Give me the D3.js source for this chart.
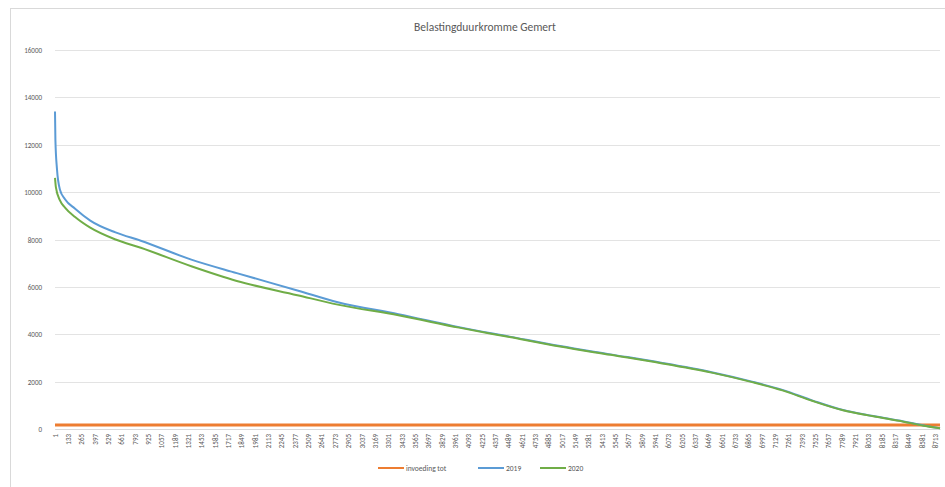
<!DOCTYPE html>
<html>
<head>
<meta charset="utf-8">
<script src="https://cdn.jsdelivr.net/npm/d3@7"></script>
<style>
  body { margin: 0; background: #fff; }
  text { font-family: Calibri, Carlito, "Liberation Sans", sans-serif; fill: #595959; }
</style>
</head>
<body>
<div id="chart"></div>
<script>
// uren (gesorteerd) en belasting in kW
const hours2019 = [1, 5, 20, 50, 100, 200, 350, 600, 850, 1350, 1800, 2400, 2800, 3400, 4000, 4500, 5000, 5500, 6000, 6500, 6900, 7200, 7500, 7800, 8100, 8400, 8600, 8760];
const values2019 = [13400, 12200, 11000, 10100, 9700, 9300, 8800, 8300, 7950, 7150, 6580, 5850, 5350, 4850, 4300, 3900, 3500, 3150, 2800, 2400, 2000, 1650, 1200, 800, 550, 320, 150, 30];

const hours2020 = [1, 10, 50, 100, 200, 350, 600, 850, 1350, 1800, 2400, 2800, 3400, 4000, 4500, 5000, 5500, 6000, 6500, 6900, 7200, 7500, 7800, 8100, 8400, 8600, 8760];
const values2020 = [10600, 10200, 9650, 9350, 8950, 8500, 8000, 7650, 6870, 6250, 5650, 5250, 4800, 4280, 3880, 3480, 3130, 2780, 2380, 1980, 1630, 1180, 790, 540, 310, 140, 30];

const hoursInvoeding = [1, 8760];
const valuesInvoeding = [170, 170];

const yTicks = [0, 2000, 4000, 6000, 8000, 10000, 12000, 14000, 16000];
const xTickLabels = [1,133,265,397,529,661,793,925,1057,1189,1321,1453,1585,1717,1849,1981,2113,2245,2377,2509,2641,2773,2905,3037,3169,3301,3433,3565,3697,3829,3961,4093,4225,4357,4489,4621,4753,4885,5017,5149,5281,5413,5545,5677,5809,5941,6073,6205,6337,6469,6601,6733,6865,6997,7129,7261,7393,7525,7657,7789,7921,8053,8185,8317,8449,8581,8713];

const seriesNames = ['invoeding tot', '2019', '2020'];
const colors = ['#ED7D31', '#5B9BD5', '#70AD47'];

const W = 945, H = 487;
const plotLeft = 55, plotRight = 940, plotTop = 50, plotBottom = 429;

const svg = d3.select('#chart').append('svg')
  .attr('width', W)
  .attr('height', H);

// rand van de grafiek
svg.append('rect')
  .attr('x', 10.5).attr('y', 8.5)
  .attr('width', 940).attr('height', 490)
  .attr('fill', 'none')
  .attr('stroke', '#d9d9d9');

const x = d3.scaleLinear().domain([1, 8760]).range([plotLeft, plotRight]);
const y = d3.scaleLinear().domain([0, 16000]).range([plotBottom, plotTop]);

// rasterlijnen
svg.append('g')
  .selectAll('line')
  .data(yTicks)
  .enter().append('line')
  .attr('x1', plotLeft).attr('x2', plotRight)
  .attr('y1', d => Math.round(y(d)) + 0.5)
  .attr('y2', d => Math.round(y(d)) + 0.5)
  .attr('stroke', '#e3e3e3')
  .attr('stroke-width', 1);

// y-as labels
svg.append('g')
  .selectAll('text')
  .data(yTicks)
  .enter().append('text')
  .attr('x', plotLeft - 13)
  .attr('y', d => y(d) + 3)
  .attr('text-anchor', 'end')
  .style('font-size', '7px')
  .text(d => d);

// x-as
const xAxis = svg.append('g')
  .attr('transform', `translate(0,${plotBottom})`)
  .call(d3.axisBottom(x).tickValues(xTickLabels).tickSize(0).tickFormat(d => d));
xAxis.select('.domain').attr('stroke', '#d9d9d9');
xAxis.selectAll('text')
  .attr('transform', 'rotate(-90)')
  .attr('text-anchor', 'end')
  .attr('x', -5)
  .attr('y', 0)
  .attr('dy', '0.32em')
  .style('font-size', '7px')
  .style('fill', '#595959');

// lijnen
const line = d3.line()
  .x(d => x(d[0]))
  .y(d => y(d[1]))
  .curve(d3.curveMonotoneX);

const series = [
  d3.zip(hoursInvoeding, valuesInvoeding),
  d3.zip(hours2019, values2019),
  d3.zip(hours2020, values2020)
];
const widths = [3, 2, 2];

series.forEach((s, i) => {
  svg.append('path')
    .datum(s)
    .attr('d', line)
    .attr('fill', 'none')
    .attr('stroke', colors[i])
    .attr('stroke-width', widths[i]);
});

// titel
svg.append('text')
  .attr('x', 485)
  .attr('y', 31)
  .attr('text-anchor', 'middle')
  .style('font-size', '11.5px')
  .text('Belastingduurkromme Gemert');

// legenda
const legendX = [378, 478, 540];
const legend = svg.append('g');
seriesNames.forEach((n, i) => {
  legend.append('line')
    .attr('x1', legendX[i]).attr('x2', legendX[i] + 26)
    .attr('y1', 468).attr('y2', 468)
    .attr('stroke', colors[i])
    .attr('stroke-width', 2);
  legend.append('text')
    .attr('x', legendX[i] + 28)
    .attr('y', 470.5)
    .style('font-size', '7.5px')
    .text(n);
});
</script>
</body>
</html>
